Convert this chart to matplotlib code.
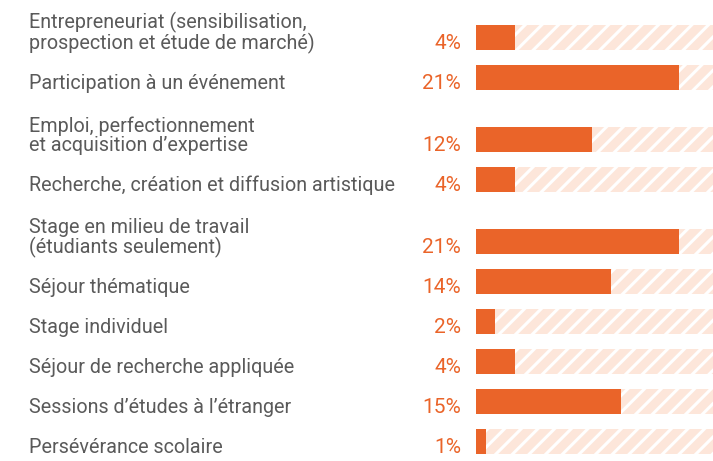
import matplotlib
matplotlib.use("Agg")
import matplotlib.pyplot as plt

plt.rcParams["hatch.linewidth"] = 2.2

# data
labels = [
    "Entrepreneuriat (sensibilisation,\nprospection et étude de marché)",
    "Participation à un événement",
    "Emploi, perfectionnement\net acquisition d’expertise",
    "Recherche, création et diffusion artistique",
    "Stage en milieu de travail\n(étudiants seulement)",
    "Séjour thématique",
    "Stage individuel",
    "Séjour de recherche appliquée",
    "Sessions d’études à l’étranger",
    "Persévérance scolaire",
]
values = [4, 21, 12, 4, 21, 14, 2, 4, 15, 1]
value_labels = ["4%", "21%", "12%", "4%", "21%", "14%", "2%", "4%", "15%", "1%"]

orange = "#EA6429"
track = "#FDE6DA"
grey = "#5A5A5A"

W, H = 713, 461
fig = plt.figure(figsize=(W / 100, H / 100), dpi=100)
# axes from the bar start to the right edge, full height, y in pixels
x0 = 476
ax = fig.add_axes([x0 / W, 0, 1 - x0 / W, 1])
xmax = 24.56
ax.set_xlim(0, xmax)
ax.set_ylim(H, 0)
ax.axis("off")

# row positions: one step per row, extra room for two-line labels
step, extra, bar_h = 40, 22, 25
ys = []
y = 37.5
for i, lab in enumerate(labels):
    if i > 0:
        y += step + (extra if "\n" in lab else 0)
    ys.append(y)

ax.barh(ys, [xmax] * len(ys), height=bar_h, color=track, hatch="//",
        edgecolor="white", linewidth=0)
ax.barh(ys, values, height=bar_h, color=orange, linewidth=0)

lab_x = (29 - x0) / (W - x0)
pct_x = (461 - x0) / (W - x0)
trans = ax.get_yaxis_transform()
for yy, lab, vl in zip(ys, labels, value_labels):
    base = yy + bar_h / 2 - 1
    ax.text(lab_x, base, lab, transform=trans, ha="left", va="baseline",
            fontsize=14.2, color=grey, family="Roboto", linespacing=0.98)
    ax.text(pct_x, base, vl, transform=trans, ha="right", va="baseline",
            fontsize=15, color=orange, family="Roboto")

fig.savefig("out.png", dpi=100)
